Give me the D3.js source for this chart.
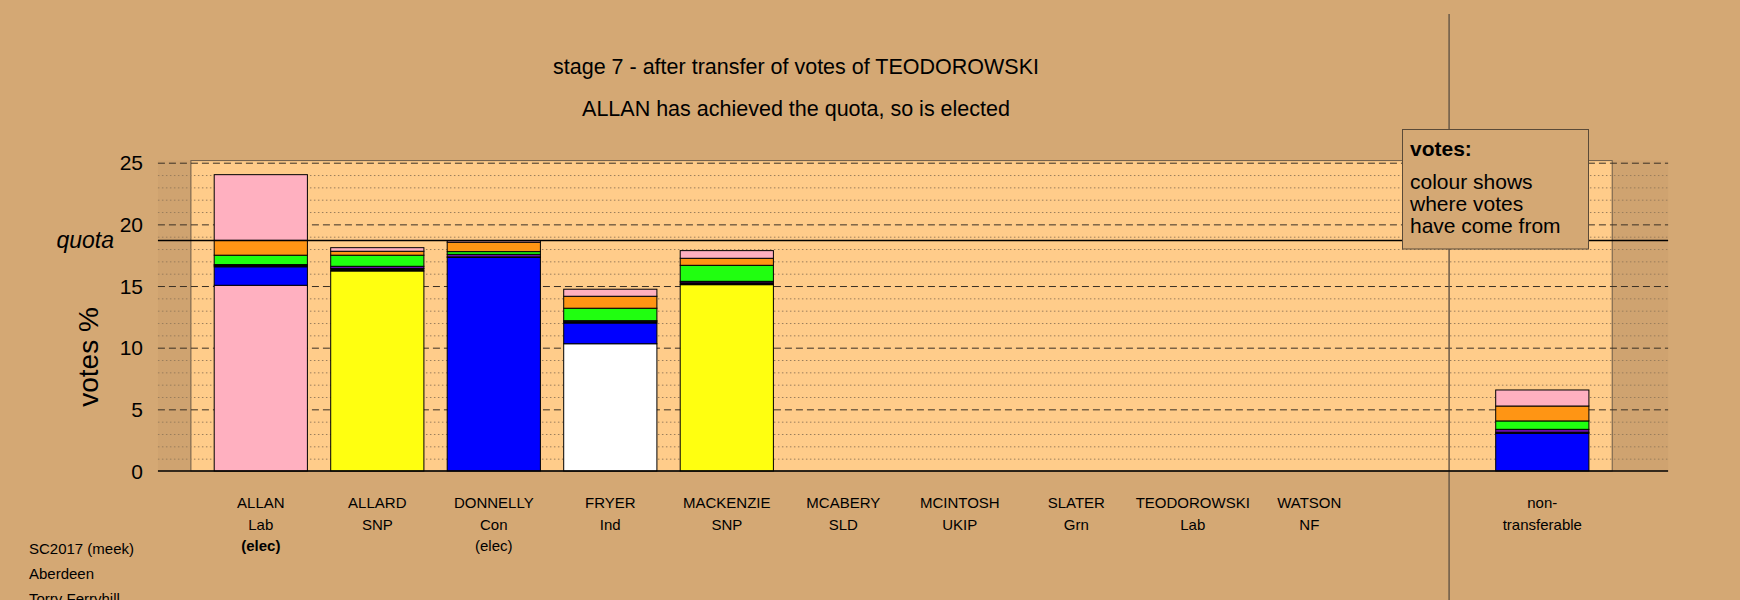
<!DOCTYPE html>
<html>
<head>
<meta charset="utf-8">
<script src="https://cdn.jsdelivr.net/npm/d3@7"></script>
<style>
  html, body { margin: 0; padding: 0; background: #D4A874; }
  svg { display: block; font-family: "Liberation Sans", Arial, Helvetica, sans-serif; }
</style>
</head>
<body>
<svg id="chart" width="1740" height="600"></svg>
<script>
// ---------------- data ----------------
const candidates = ["ALLAN", "ALLARD", "DONNELLY", "FRYER", "MACKENZIE", "MCABERY", "MCINTOSH", "SLATER", "TEODOROWSKI", "WATSON", "non-transferable"];
const parties    = ["Lab", "SNP", "Con", "Ind", "SNP", "SLD", "UKIP", "Grn", "Lab", "NF", ""];
const statusText = ["(elec)", "", "(elec)", "", "", "", "", "", "", "", ""];
const statusBold = [true, false, false, false, false, false, false, false, false, false, false];
const slotIndex  = [0, 1, 2, 3, 4, 5, 6, 7, 8, 9, 11];

// votes % : own first preferences, then transfers by source party
const ownVotes = [15.06, 16.22, 17.33, 10.32, 15.11, 0, 0, 0, 0, 0, 0];
const fromCon  = [1.50, 0.00, 0.00, 1.68, 0.00, 0, 0, 0, 0, 0, 3.06];
const fromNF   = [0.10, 0.20, 0.03, 0.10, 0.15, 0, 0, 0, 0, 0, 0.08];
const fromUKIP = [0.08, 0.18, 0.21, 0.09, 0.12, 0, 0, 0, 0, 0, 0.24];
const fromGrn  = [0.76, 0.90, 0.22, 1.01, 1.30, 0, 0, 0, 0, 0, 0.68];
const fromSLD  = [1.20, 0.32, 0.76, 0.97, 0.57, 0, 0, 0, 0, 0, 1.21];
const fromLab  = [5.33, 0.29, 0.13, 0.57, 0.62, 0, 0, 0, 0, 0, 1.30];

const quota = 18.7;
const yTicks = [0, 5, 10, 15, 20, 25];
const titleLines = ["stage 7 - after transfer of votes of TEODOROWSKI", "ALLAN has achieved the quota, so is elected"];
const footLines = ["SC2017 (meek)", "Aberdeen", "Torry Ferryhill"];
const legendLines = ["colour shows", "where votes", "have come from"];

const partyColour = {
  Lab: "#FFB0C0", SNP: "#FFFF10", Con: "#0000FF", Ind: "#FFFFFF",
  SLD: "#FF9514", Grn: "#20FF10", UKIP: "#6A0DAD", NF: "#000000"
};

// ---------------- layout ----------------
const svg = d3.select("#chart");
const W = 1740, H = 600;
const bg = "#D4A874", panelFill = "#FFCC8A";

svg.append("rect").attr("width", W).attr("height", H).attr("fill", bg);

const x = d3.scaleLinear().domain([0, 11]).range([260.8, 1542.3]);
const y = d3.scaleLinear().domain([0, 25]).range([471, 162.7]);
const barW = x(0.8) - x(0);

const gridL = x(-0.883), gridR = x(12.08);
const panelL = x(-0.6), panelR = x(11.6), panelTop = y(25.17);

// slightly darker strip behind
svg.append("rect")
  .attr("x", gridL).attr("y", panelTop).attr("width", gridR - gridL).attr("height", y(0) - panelTop)
  .attr("fill", "#CFA370");

// panel
svg.append("rect")
  .attr("x", panelL).attr("y", panelTop).attr("width", panelR - panelL).attr("height", y(0) - panelTop)
  .attr("fill", panelFill).attr("stroke", "#6b5a48").attr("stroke-width", 1);

// grid lines
const minor = d3.range(1, 25).filter(v => v % 5 !== 0);
svg.append("g").selectAll("line").data(minor).join("line")
  .attr("x1", gridL).attr("x2", gridR)
  .attr("y1", d => y(d) + 0.5).attr("y2", d => y(d) + 0.5)
  .attr("stroke", "#9a7e5c").attr("stroke-width", 1).attr("stroke-dasharray", "1.5,2.5");
svg.append("g").selectAll("line").data(yTicks.filter(d => d > 0)).join("line")
  .attr("x1", gridL).attr("x2", gridR)
  .attr("y1", d => y(d) + 0.5).attr("y2", d => y(d) + 0.5)
  .attr("stroke", "#3a3024").attr("stroke-width", 1).attr("stroke-dasharray", "7,4");

// separator line
svg.append("line")
  .attr("x1", x(10.2)).attr("x2", x(10.2)).attr("y1", 14).attr("y2", H)
  .attr("stroke", "#6b5a48").attr("stroke-width", 1.5);

// stacked bars
const keys = ["own", "Con", "NF", "UKIP", "Grn", "SLD", "Lab"];
const table = candidates.map((c, i) => ({
  i, slot: slotIndex[i], party: parties[i],
  own: ownVotes[i], Con: fromCon[i], NF: fromNF[i], UKIP: fromUKIP[i],
  Grn: fromGrn[i], SLD: fromSLD[i], Lab: fromLab[i]
}));
const series = d3.stack().keys(keys)(table);

const gBars = svg.append("g");
series.forEach(s => {
  gBars.append("g").selectAll("rect")
    .data(s.filter(d => d[1] - d[0] > 0))
    .join("rect")
    .attr("x", d => x(d.data.slot) - barW / 2)
    .attr("width", barW)
    .attr("y", d => y(d[1]))
    .attr("height", d => y(d[0]) - y(d[1]))
    .attr("fill", d => s.key === "own" ? partyColour[d.data.party] : partyColour[s.key])
    .attr("stroke", "#000").attr("stroke-width", 1);
});

// axis line and quota line
svg.append("line").attr("x1", gridL).attr("x2", gridR).attr("y1", y(0)).attr("y2", y(0))
  .attr("stroke", "#000").attr("stroke-width", 1.5);
svg.append("line").attr("x1", gridL).attr("x2", gridR).attr("y1", y(quota)).attr("y2", y(quota))
  .attr("stroke", "#000").attr("stroke-width", 1.5);

// y tick labels
svg.append("g").selectAll("text").data(yTicks).join("text")
  .attr("x", 143).attr("y", d => y(d)).attr("dy", "0.36em")
  .attr("text-anchor", "end").attr("font-size", 21).attr("fill", "#000")
  .text(d => d);

svg.append("text").attr("x", 114).attr("y", y(quota) + 8)
  .attr("text-anchor", "end").attr("font-size", 23).attr("font-style", "italic")
  .text("quota");

svg.append("text")
  .attr("transform", "translate(98,357) rotate(-90)")
  .attr("text-anchor", "middle").attr("font-size", 28)
  .text("votes %");

// titles
svg.append("g").selectAll("text").data(titleLines).join("text")
  .attr("x", 796).attr("y", (d, i) => 74 + i * 41.5)
  .attr("text-anchor", "middle").attr("font-size", 21.5)
  .text(d => d);

// x labels
const gx = svg.append("g").attr("font-size", 15).attr("text-anchor", "middle");
table.forEach((d, i) => {
  const cx = x(d.slot);
  if (i === candidates.length - 1) {
    gx.append("text").attr("x", cx).attr("y", 508).text("non-");
    gx.append("text").attr("x", cx).attr("y", 530).text("transferable");
  } else {
    gx.append("text").attr("x", cx).attr("y", 508).text(candidates[i]);
    gx.append("text").attr("x", cx).attr("y", 530).text(parties[i]);
    if (statusText[i]) {
      gx.append("text").attr("x", cx).attr("y", 551)
        .attr("font-weight", statusBold[i] ? "bold" : "normal").text(statusText[i]);
    }
  }
});

// footnote
svg.append("g").selectAll("text").data(footLines).join("text")
  .attr("x", 29).attr("y", (d, i) => 554 + i * 25)
  .attr("font-size", 15).text(d => d);

// legend box
const lg = svg.append("g");
lg.append("rect").attr("x", 1402.5).attr("y", 129.5).attr("width", 186).attr("height", 119.5)
  .attr("fill", bg).attr("stroke", "#5a4a38").attr("stroke-width", 1);
lg.append("text").attr("x", 1410).attr("y", 156).attr("font-size", 21).attr("font-weight", "bold").text("votes:");
lg.selectAll("text.l").data(legendLines).join("text").attr("class", "l")
  .attr("x", 1410).attr("y", (d, i) => 188.5 + i * 22)
  .attr("font-size", 21).text(d => d);
</script>
</body>
</html>
